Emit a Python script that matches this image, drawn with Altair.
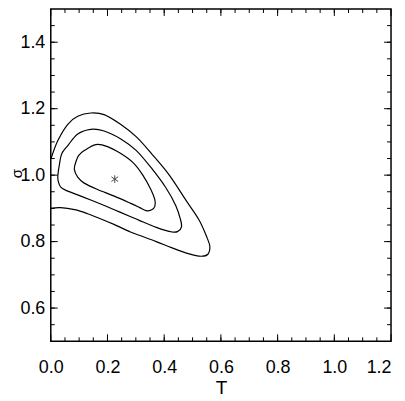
import altair as alt
import numpy as np
import pandas as pd

# ---- contour data ----
outer_T = [0.001, 0.025, 0.060, 0.095, 0.141, 0.188, 0.246, 0.302, 0.358, 0.418,
           0.477, 0.523, 0.551, 0.561, 0.554, 0.530, 0.488, 0.428, 0.372, 0.312,
           0.281, 0.225, 0.175, 0.130, 0.084, 0.035, 0.000]
outer_s = [1.050, 1.104, 1.153, 1.177, 1.187, 1.182, 1.153, 1.115, 1.062, 1.000,
           0.924, 0.865, 0.812, 0.785, 0.762, 0.756, 0.763, 0.781, 0.800, 0.819,
           0.829, 0.851, 0.869, 0.884, 0.896, 0.902, 0.900]

mid_T = [0.025, 0.031, 0.039, 0.060, 0.095, 0.141, 0.188, 0.247, 0.302, 0.358,
         0.406, 0.441, 0.458, 0.461, 0.449, 0.428, 0.372, 0.312, 0.282, 0.224,
         0.165, 0.106, 0.060, 0.036, 0.026]
mid_s = [1.000, 1.035, 1.065, 1.089, 1.124, 1.138, 1.133, 1.109, 1.074, 1.018,
         0.962, 0.908, 0.865, 0.844, 0.831, 0.829, 0.843, 0.864, 0.875, 0.896,
         0.917, 0.937, 0.952, 0.963, 0.982]

inner_T = [0.083, 0.089, 0.098, 0.118, 0.159, 0.200, 0.247, 0.291, 0.324, 0.353,
           0.367, 0.367, 0.356, 0.336, 0.312, 0.282, 0.224, 0.165, 0.118, 0.095]
inner_s = [1.018, 1.041, 1.059, 1.074, 1.092, 1.086, 1.065, 1.037, 1.001, 0.957,
           0.926, 0.906, 0.896, 0.893, 0.903, 0.915, 0.937, 0.957, 0.976, 0.994]

best_T = [0.2256]
best_s = [0.988]

# ---- axis ticks ----
x_major = [0.0, 0.2, 0.4, 0.6, 0.8, 1.0, 1.2]
x_minor = [round(v, 2) for v in np.arange(0.05, 1.2, 0.05)]
y_major = [0.6, 0.8, 1.0, 1.2, 1.4]
y_minor = [round(v, 2) for v in np.arange(0.55, 1.5, 0.05)]

W, H = 342, 334
FONT = "Liberation Sans Narrow, Arial Narrow, Liberation Sans, sans-serif"
FS = 18
MAJ, MIN = 7, 4

xs = alt.Scale(domain=[0, 1.2], nice=False, zero=False)
ys = alt.Scale(domain=[0.5, 1.5], nice=False, zero=False)

open_df = pd.DataFrame({"T": outer_T, "s": outer_s,
                        "i": list(range(len(outer_T))), "c": "outer"})
closed_df = pd.concat([
    pd.DataFrame({"T": mid_T, "s": mid_s, "i": list(range(len(mid_T))), "c": "mid"}),
    pd.DataFrame({"T": inner_T, "s": inner_s, "i": list(range(len(inner_T))), "c": "inner"}),
])
best_df = pd.DataFrame({"T": best_T, "s": best_s})

x_axis = alt.Axis(values=x_major, format=".1f", ticks=False, tickSize=0, domain=False,
                  grid=False, labelFont=FONT, labelFontSize=FS, labelColor="black",
                  labelBaseline="alphabetic", labelPadding=31, labelFlush=False,
                  labelAlign=alt.expr("datum.value >= 1.19 ? 'right' : 'center'"),
                  title="T", titleFont=FONT, titleFontSize=19, titleFontWeight="normal",
                  titleColor="black", titleBaseline="alphabetic", titleY=52)
y_axis = alt.Axis(values=y_major, format=".1f", ticks=False, tickSize=0, domain=False,
                  grid=False, labelFont=FONT, labelFontSize=FS, labelColor="black",
                  labelBaseline="middle", labelPadding=6, labelFlush=False,
                  title="σ", titleFont="Liberation Sans, sans-serif", titleFontSize=15,
                  titleFontWeight="normal", titleColor="black", titleAngle=270,
                  titleBaseline="alphabetic", titleAlign="center", titleX=-29, titleY=165)

open_line = alt.Chart(open_df).mark_line(
    color="black", strokeWidth=1.2, interpolate="cardinal", clip=True
).encode(
    x=alt.X("T:Q", scale=xs, axis=x_axis),
    y=alt.Y("s:Q", scale=ys, axis=y_axis),
    order="i:Q",
    detail="c:N",
)

closed_line = alt.Chart(closed_df).mark_line(
    color="black", strokeWidth=1.2, interpolate="cardinal-closed", clip=True
).encode(
    x=alt.X("T:Q", scale=xs, axis=x_axis),
    y=alt.Y("s:Q", scale=ys, axis=y_axis),
    order="i:Q",
    detail="c:N",
)

star = alt.Chart(best_df).mark_point(
    shape="M0,-1L0,1M-0.87,-0.6L0.87,0.6M-0.87,0.6L0.87,-0.6",
    filled=False, stroke="black", strokeWidth=1, size=60
).encode(
    x=alt.X("T:Q", scale=xs, axis=x_axis),
    y=alt.Y("s:Q", scale=ys, axis=y_axis),
)


def xticks(vals, length, side):
    df = pd.DataFrame({"T": vals})
    if side == "bottom":
        yy, yy2 = alt.value(H), alt.value(H - length)
    else:
        yy, yy2 = alt.value(0), alt.value(length)
    return alt.Chart(df).mark_rule(color="black", strokeWidth=1).encode(
        x=alt.X("T:Q", scale=xs, axis=x_axis), y=yy, y2=yy2)


def yticks(vals, length, side):
    df = pd.DataFrame({"s": vals})
    if side == "left":
        xx, xx2 = alt.value(0), alt.value(length)
    else:
        xx, xx2 = alt.value(W), alt.value(W - length)
    return alt.Chart(df).mark_rule(color="black", strokeWidth=1).encode(
        y=alt.Y("s:Q", scale=ys, axis=y_axis), x=xx, x2=xx2)


ticks = [
    xticks(x_major, MAJ, "bottom"), xticks(x_minor, MIN, "bottom"),
    xticks(x_major, MAJ, "top"), xticks(x_minor, MIN, "top"),
    yticks(y_major, MAJ, "left"), yticks(y_minor, MIN, "left"),
    yticks(y_major, MAJ, "right"), yticks(y_minor, MIN, "right"),
]

chart = alt.layer(open_line, closed_line, star, *ticks).properties(
    width=W, height=H,
    autosize=alt.AutoSizeParams(type="none"),
    padding={"left": 43, "top": 0, "right": 6, "bottom": 58},
    background="white",
).configure_view(stroke="black", strokeWidth=1.5)

chart.save("out.html", embed_options={"renderer": "svg", "actions": False})
